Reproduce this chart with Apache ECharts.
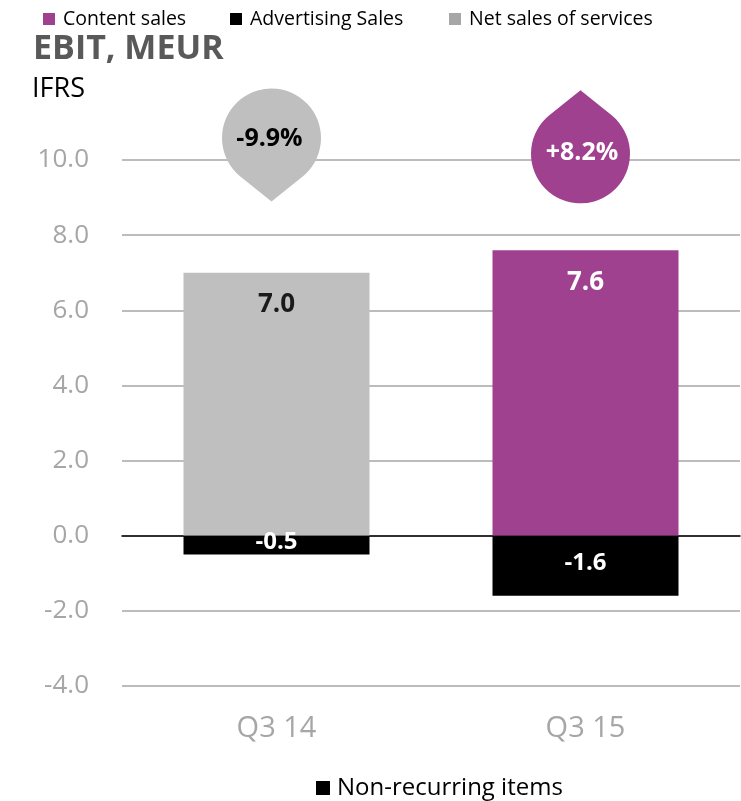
<!DOCTYPE html>
<html lang="en">
    <head>
        <meta charset="UTF-8">
        <script src="https://cdn.jsdelivr.net/npm/echarts@6/dist/echarts.min.js"></script>
        <title>EBIT, MEUR</title>
        <style>
            html, body { margin: 0; padding: 0; background: #fff; }
        </style>
    </head>
    <body>
        <div id="chart" style="width: 741px; height: 801px;"></div>
    </body>
    <script>
        // 数据
        var categories = ["Q3 14", "Q3 15"];
        var contentSales = ["-", 7.6];
        var advertisingSales = [];
        var netSalesServices = [7.0, "-"];
        var nonRecurring = [-0.5, -1.6];
        // 水滴标注  位置(数值) + 文字
        var dropValues = [10.4, 10.35];
        var dropLabels = ["-9.9%", "+8.2%"];

        var FONT = "Open Sans";
        var PURPLE = "#9f418f";
        var dropPath = "path://M0 64 L31.2 39.05 A50 50 0 1 0 -31.2 39.05 Z";

        // 顶部图例  每项单独定位
        function topLegend(left, item) {
            return {
                left: left, top: 4,
                icon: "rect", itemWidth: 12, itemHeight: 12,
                textStyle: { fontFamily: FONT, fontSize: 19.5, color: "#000", padding: [0, 0, 0, 3] },
                data: [item]
            };
        }

        var myCharts = echarts.init(document.getElementById("chart"));
        var option = {
            animation: false,
            title: [
                {
                    text: "EBIT, MEUR",
                    left: 28, top: 27,
                    textStyle: { fontFamily: FONT, fontSize: 34, fontWeight: "bold", color: "#595959" }
                },
                {
                    text: "IFRS",
                    left: 27, top: 71,
                    textStyle: { fontFamily: FONT, fontSize: 27, fontWeight: "normal", color: "#000" }
                }
            ],
            legend: [
                topLegend(38, "Content sales"),
                topLegend(225, "Advertising Sales"),
                topLegend(444, { name: "Net sales of services", itemStyle: { color: "#a6a6a6" } }),
                {
                    left: 311, top: 771,
                    icon: "rect", itemWidth: 14, itemHeight: 14,
                    textStyle: { fontFamily: FONT, fontSize: 24, color: "#000", padding: [0, 0, 0, 2] },
                    data: ["Non-recurring items"]
                }
            ],
            grid: { left: 122, right: 1, top: 160, bottom: 115 },
            xAxis: {
                type: "category",
                data: categories,
                axisLine: { onZero: true, lineStyle: { color: "#000", width: 1.5 } },
                axisTick: { show: false },
                axisLabel: { fontFamily: FONT, fontSize: 29, color: "#a6a6a6", margin: 28 }
            },
            yAxis: {
                type: "value",
                min: -4, max: 10, interval: 2,
                axisLine: { show: false },
                axisTick: { show: false },
                axisLabel: {
                    fontFamily: FONT, fontSize: 26, color: "#a6a6a6", margin: 33,
                    formatter: function (v) { return v.toFixed(1); }
                },
                splitLine: { lineStyle: { color: "#a6a6a6", width: 1.5 } }
            },
            series: [
                {
                    name: "Content sales",
                    type: "bar", stack: "ebit", barWidth: 186,
                    data: contentSales,
                    itemStyle: { color: PURPLE },
                    label: {
                        show: true, position: "insideTop", distance: 19,
                        fontFamily: FONT, fontSize: 26, fontWeight: "bold", color: "#fff",
                        formatter: function (p) { return p.value.toFixed(1); }
                    }
                },
                {
                    name: "Advertising Sales",
                    type: "bar", stack: "ebit",
                    data: advertisingSales,
                    itemStyle: { color: "#000" }
                },
                {
                    name: "Net sales of services",
                    type: "bar", stack: "ebit", barWidth: 186,
                    data: netSalesServices,
                    itemStyle: { color: "#bfbfbf" },
                    label: {
                        show: true, position: "insideTop", distance: 19,
                        fontFamily: FONT, fontSize: 26, fontWeight: "bold", color: "#1a1a1a",
                        formatter: function (p) { return p.value.toFixed(1); }
                    }
                },
                {
                    name: "Non-recurring items",
                    type: "bar", stack: "ebit", barWidth: 186,
                    data: nonRecurring,
                    itemStyle: { color: "#000" },
                    label: {
                        show: true, position: "inside", offset: [0, -3],
                        fontFamily: FONT, fontSize: 24, fontWeight: "bold", color: "#fff",
                        formatter: function (p) { return p.value.toFixed(1); }
                    }
                },
                {
                    // 水滴形标注
                    type: "scatter",
                    clip: false,
                    z: 5,
                    symbol: dropPath,
                    symbolSize: [99, 113],
                    symbolOffset: [-5, 0],
                    data: [
                        {
                            value: dropValues[0],
                            itemStyle: { color: "#bfbfbf", opacity: 1 },
                            label: { color: "#000", offset: [-2, -6] }
                        },
                        {
                            value: dropValues[1],
                            symbolRotate: 180,
                            itemStyle: { color: PURPLE, opacity: 1 },
                            label: { color: "#fff", offset: [1.5, 6.5] }
                        }
                    ],
                    label: {
                        show: true, position: "inside",
                        fontFamily: FONT, fontSize: 25, fontWeight: "bold",
                        formatter: function (p) { return dropLabels[p.dataIndex]; }
                    },
                    emphasis: { disabled: true },
                    tooltip: { show: false }
                }
            ]
        };
        myCharts.setOption(option);
    </script>
</html>
